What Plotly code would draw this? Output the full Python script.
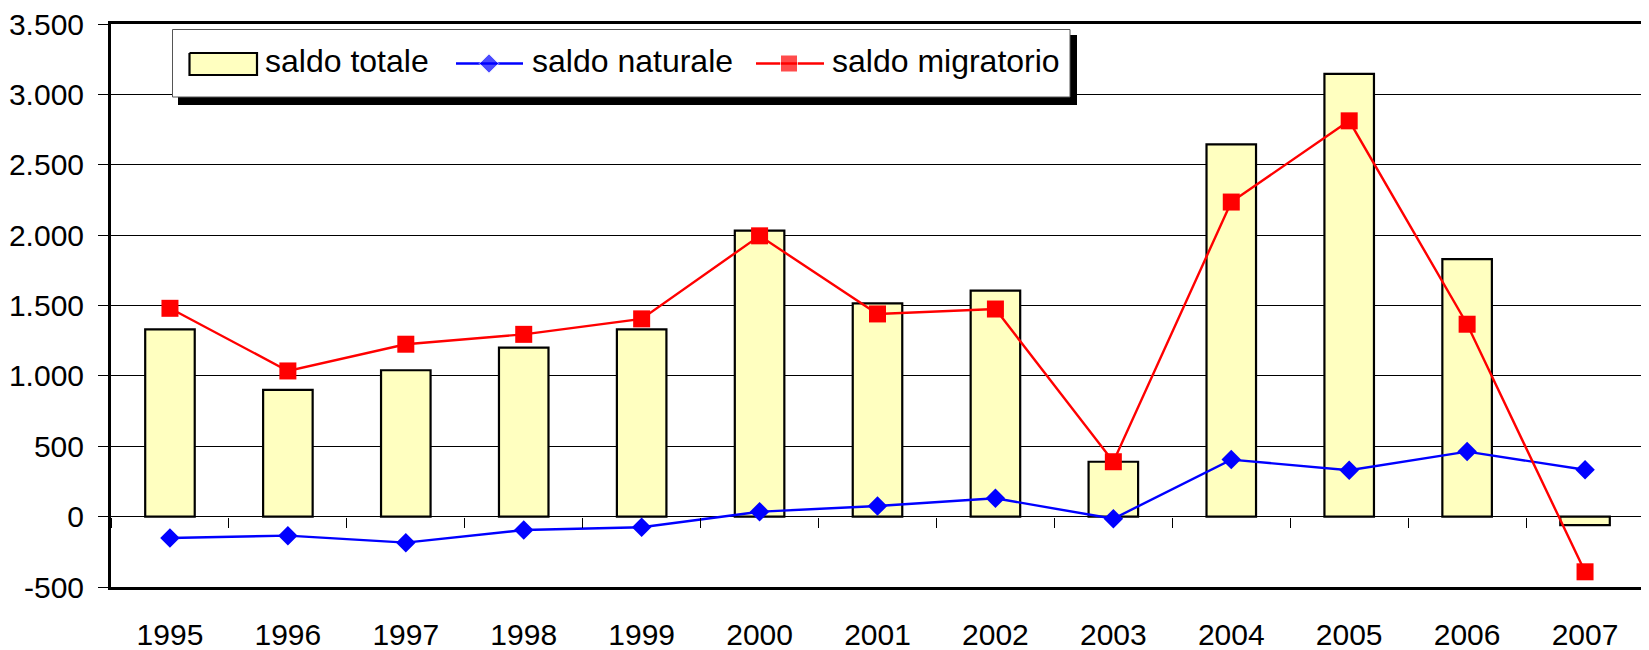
import plotly.graph_objects as go

# ---- data ----
years = ["1995", "1996", "1997", "1998", "1999", "2000", "2001",
         "2002", "2003", "2004", "2005", "2006", "2007"]
saldo_totale = [1330, 900, 1040, 1200, 1330, 2032, 1515, 1605, 390, 2645, 3145, 1830, -60]
saldo_naturale = [-152, -135, -185, -95, -75, 35, 75, 130, -15, 405, 330, 462, 333]
saldo_migratorio = [1480, 1035, 1225, 1295, 1405, 1995, 1440, 1475, 390, 2235, 2812, 1367, -392]
series_names = ["saldo totale", "saldo naturale", "saldo migratorio"]
y_tickvals = [-500, 0, 500, 1000, 1500, 2000, 2500, 3000, 3500]
y_ticktext = ["-500", "0", "500", "1.000", "1.500", "2.000", "2.500", "3.000", "3.500"]

# ---- style ----
FONT = "Liberation Sans, Arial, sans-serif"
BAR_FILL = "#FFFFC0"
BLUE = "#0000FF"
RED = "#FF0000"
W, H = 1649, 650          # browser window
OFF = 8                   # default page (body) margin offsets the figure
ML, MR, MT, MB = 111, 5, 24, 63   # desired plot-area margins in window pixels
PX0, PX1 = ML, W - MR
PY0, PY1 = MT, H - MB

fig = go.Figure()

fig.add_trace(go.Bar(
    x=years, y=saldo_totale, name=series_names[0], width=0.42,
    marker=dict(color=BAR_FILL, line=dict(color="black", width=2.2)),
    showlegend=False,
))
fig.add_trace(go.Scatter(
    x=years, y=saldo_naturale, name=series_names[1], mode="lines+markers",
    line=dict(color=BLUE, width=2.4),
    marker=dict(symbol="diamond", size=15, color=BLUE),
    showlegend=False,
))
fig.add_trace(go.Scatter(
    x=years, y=saldo_migratorio, name=series_names[2], mode="lines+markers",
    line=dict(color=RED, width=2.4),
    marker=dict(symbol="square", size=17, color=RED),
    showlegend=False,
))
# invisible helper trace so the zero-line tick axis (x2) is drawn
fig.add_trace(go.Scatter(
    x=[0], y=[0], xaxis="x2", yaxis="y", mode="markers",
    marker=dict(opacity=0), hoverinfo="skip", showlegend=False,
))

# ---- custom legend (window-pixel coordinates on a hidden overlay axis pair) ----
def rect(x0, y0, x1, y1, fill, line_color, line_width):
    return go.Scatter(
        x=[x0, x1, x1, x0, x0], y=[y0, y0, y1, y1, y0],
        xaxis="x3", yaxis="y3", mode="lines", fill="toself",
        fillcolor=fill, line=dict(color=line_color, width=line_width),
        hoverinfo="skip", showlegend=False,
    )

fig.add_trace(rect(178, 35, 1077, 105, "black", "black", 0))          # shadow
fig.add_trace(rect(172.5, 29.5, 1070, 97, "white", "#555555", 1))      # box
fig.add_trace(rect(189.5, 53, 257, 75, BAR_FILL, "black", 2.2))       # bar swatch
fig.add_trace(go.Scatter(
    x=[456, 489, 523], y=[63.5, 63.5, 63.5], xaxis="x3", yaxis="y3",
    mode="lines+markers", line=dict(color=BLUE, width=2.4),
    marker=dict(symbol="diamond", size=[0, 15, 0], color=BLUE),
    hoverinfo="skip", showlegend=False,
))
fig.add_trace(go.Scatter(
    x=[756, 789, 824], y=[63.5, 63.5, 63.5], xaxis="x3", yaxis="y3",
    mode="lines+markers", line=dict(color=RED, width=2.4),
    marker=dict(symbol="square", size=[0, 17, 0], color=RED),
    hoverinfo="skip", showlegend=False,
))
legend_text_x = [263, 530, 830]
annotations = []
for name, tx in zip(series_names, legend_text_x):
    annotations.append(dict(
        text=name, x=tx, y=61, xref="x3", yref="y3",
        xanchor="left", yanchor="middle", showarrow=False,
        font=dict(family=FONT, size=32, color="black"),
    ))

fig.update_layout(
    width=W - OFF, height=H - OFF,
    margin=dict(l=ML - OFF, r=MR, t=MT - OFF, b=MB, pad=0, autoexpand=False),
    paper_bgcolor="white", plot_bgcolor="white",
    font=dict(family=FONT, size=30, color="black"),
    bargap=0.58,
    showlegend=False,
    annotations=annotations,
    xaxis=dict(
        type="category", categoryorder="array", categoryarray=years,
        range=[-0.5, len(years) - 0.5], automargin=False,
        showline=True, linecolor="black", linewidth=3, mirror=True,
        ticks="", showgrid=False, zeroline=False,
        tickfont=dict(family=FONT, size=30, color="black"),
        ticklabelstandoff=19, ticklabeloverflow="allow",
    ),
    xaxis2=dict(
        overlaying="x", anchor="free", position=500 / 4000, automargin=False,
        range=[-0.5, len(years) - 0.5], tickmode="linear", tick0=0.5, dtick=1,
        ticks="outside", ticklen=10, tickwidth=1, tickcolor="black",
        showticklabels=False, showgrid=False, zeroline=False, showline=False,
    ),
    yaxis=dict(
        range=[-500, 3500], tickmode="array", tickvals=y_tickvals, ticktext=y_ticktext,
        automargin=False,
        showline=True, linecolor="black", linewidth=3, mirror=True,
        ticks="outside", ticklen=10, tickwidth=1, tickcolor="black",
        showgrid=True, gridcolor="black", gridwidth=1,
        zeroline=True, zerolinecolor="black", zerolinewidth=1,
        tickfont=dict(family=FONT, size=30, color="black"),
        ticklabelstandoff=8, ticklabeloverflow="allow",
    ),
    xaxis3=dict(overlaying="x", anchor="y3", range=[PX0, PX1], visible=False,
                automargin=False),
    yaxis3=dict(overlaying="y", anchor="x3", range=[PY1, PY0], visible=False,
                automargin=False),
)

fig.write_html("out.html")
